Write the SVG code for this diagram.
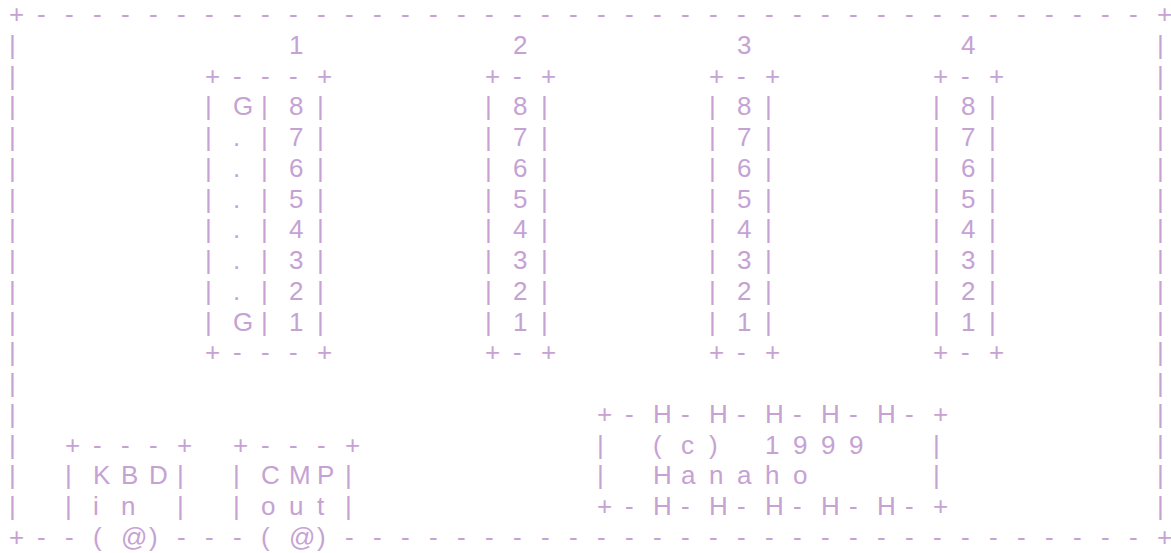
<svg xmlns="http://www.w3.org/2000/svg" width="1171" height="553" viewBox="0 0 1171 553">
<style>
text{font-family:"Liberation Sans",Arial,sans-serif;font-size:26px;fill:#c6a2d4}
</style>
<rect width="1171" height="553" fill="#ffffff"/>
<g transform="translate(0,0.7)">
<g id="connectors">
<g id="border">
<text x="9 37 65 93 121 149 177 205 233 261 289 317 345 373 401 429 457 485 513 541 569 597 625 653 681 709 737 765 793 821 849 877 905 933 961 989 1017 1045 1073 1101 1129 1157" y="22.4">+----------------------------------------+</text>
<text x="9 9 9 9 9 9 9 9 9 9 9 9 9 9 9 9" y="53.15 83.9 114.65 145.4 176.15 206.9 237.65 268.4 299.15 329.9 360.65 391.4 422.15 452.9 483.65 514.4">||||||||||||||||</text>
<text x="1157 1157 1157 1157 1157 1157 1157 1157 1157 1157 1157 1157 1157 1157 1157 1157" y="53.15 83.9 114.65 145.4 176.15 206.9 237.65 268.4 299.15 329.9 360.65 391.4 422.15 452.9 483.65 514.4">||||||||||||||||</text>
<text x="9 37 65" y="545.15">+--</text>
<text x="177 205 233" y="545.15">---</text>
<text x="345 373 401 429 457 485 513 541 569 597 625 653 681 709 737 765 793 821 849 877 905 933 961 989 1017 1045 1073 1101 1129 1157" y="545.15">-----------------------------+</text>
</g>
</g>
<g id="chip1">
<text x="289" y="53.15">1</text>
<text x="205 233 261 289 317" y="83.9">+---+</text>
<text x="205 233 261 289 317" y="114.65">|G|8|</text>
<text x="205 233 261 289 317" y="145.4">|.|7|</text>
<text x="205 233 261 289 317" y="176.15">|.|6|</text>
<text x="205 233 261 289 317" y="206.9">|.|5|</text>
<text x="205 233 261 289 317" y="237.65">|.|4|</text>
<text x="205 233 261 289 317" y="268.4">|.|3|</text>
<text x="205 233 261 289 317" y="299.15">|.|2|</text>
<text x="205 233 261 289 317" y="329.9">|G|1|</text>
<text x="205 233 261 289 317" y="360.65">+---+</text>
</g>
<g id="chip2">
<text x="513" y="53.15">2</text>
<text x="485 513 541" y="83.9">+-+</text>
<text x="485 513 541" y="114.65">|8|</text>
<text x="485 513 541" y="145.4">|7|</text>
<text x="485 513 541" y="176.15">|6|</text>
<text x="485 513 541" y="206.9">|5|</text>
<text x="485 513 541" y="237.65">|4|</text>
<text x="485 513 541" y="268.4">|3|</text>
<text x="485 513 541" y="299.15">|2|</text>
<text x="485 513 541" y="329.9">|1|</text>
<text x="485 513 541" y="360.65">+-+</text>
</g>
<g id="chip3">
<text x="737" y="53.15">3</text>
<text x="709 737 765" y="83.9">+-+</text>
<text x="709 737 765" y="114.65">|8|</text>
<text x="709 737 765" y="145.4">|7|</text>
<text x="709 737 765" y="176.15">|6|</text>
<text x="709 737 765" y="206.9">|5|</text>
<text x="709 737 765" y="237.65">|4|</text>
<text x="709 737 765" y="268.4">|3|</text>
<text x="709 737 765" y="299.15">|2|</text>
<text x="709 737 765" y="329.9">|1|</text>
<text x="709 737 765" y="360.65">+-+</text>
</g>
<g id="chip4">
<text x="961" y="53.15">4</text>
<text x="933 961 989" y="83.9">+-+</text>
<text x="933 961 989" y="114.65">|8|</text>
<text x="933 961 989" y="145.4">|7|</text>
<text x="933 961 989" y="176.15">|6|</text>
<text x="933 961 989" y="206.9">|5|</text>
<text x="933 961 989" y="237.65">|4|</text>
<text x="933 961 989" y="268.4">|3|</text>
<text x="933 961 989" y="299.15">|2|</text>
<text x="933 961 989" y="329.9">|1|</text>
<text x="933 961 989" y="360.65">+-+</text>
</g>
<g id="copyright">
<text x="597 625 653 681 709 737 765 793 821 849 877 905 933" y="422.15">+-H-H-H-H-H-+</text>
<text x="597 653 681 709 765 793 821 849 933" y="452.9">|(c)1999|</text>
<text x="597 653 681 709 737 765 793 933" y="483.65">|Hanaho|</text>
<text x="597 625 653 681 709 737 765 793 821 849 877 905 933" y="514.4">+-H-H-H-H-H-+</text>
</g>
<g id="kbd">
<text x="65 93 121 149 177" y="452.9">+---+</text>
<text x="65 93 121 149 177" y="483.65">|KBD|</text>
<text x="65 93 121 177" y="514.4">|in|</text>
<text x="93 121 149" y="545.15">(@)</text>
</g>
<g id="cmp">
<text x="233 261 289 317 345" y="452.9">+---+</text>
<text x="233 261 289 317 345" y="483.65">|CMP|</text>
<text x="233 261 289 317 345" y="514.4">|out|</text>
<text x="261 289 317" y="545.15">(@)</text>
</g>
</g>
</svg>
